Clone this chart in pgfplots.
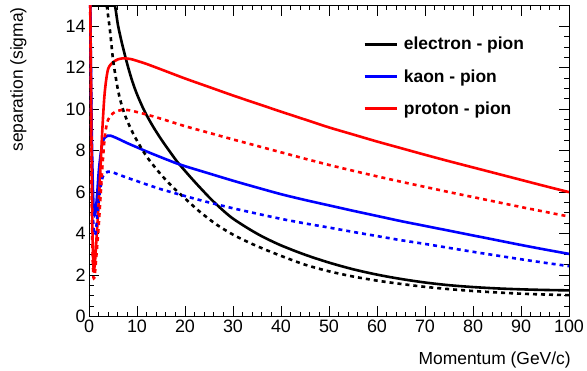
\documentclass[border=0pt]{standalone}
\usepackage{fontspec}
\setmainfont{Liberation Sans}
\usepackage{pgfplots}
\pgfplotsset{compat=1.18}
\definecolor{rblue}{RGB}{0,0,255}
\definecolor{rred}{RGB}{255,0,0}
\begin{document}
\begin{tikzpicture}
\begin{axis}[
  scale only axis, width=480bp, height=311bp,
  xmin=0, xmax=100, ymin=0, ymax=15,
  xtick={0,10,...,100}, ytick={0,2,...,14},
  minor x tick num=4, minor y tick num=3,
  tick align=inside, tick pos=both,
  major tick length=10bp, minor tick length=5bp,
  axis line style={line width=0.8bp},
  every tick/.style={black, line width=0.8bp},
  ticklabel style={font=\fontsize{18}{21}\selectfont},
  /pgf/number format/assume math mode=true,
  xlabel={Momentum (GeV/c)},
  ylabel={separation (sigma)},
  xlabel style={at={(axis description cs:1.004,-0.1545)}, anchor=base east, inner sep=0pt, font=\fontsize{17.5}{20}\selectfont},
  ylabel style={at={(axis description cs:-0.138,0.995)}, anchor=base east, inner sep=0pt, font=\fontsize{17.5}{20}\selectfont},
  legend style={draw=none, fill=none, at={(axis description cs:0.571,0.905)}, anchor=north west,
    font=\bfseries\fontsize{17.5}{20}\selectfont, row sep=14bp, column sep=4bp, inner sep=0pt,
    nodes={inner sep=2bp}},
  legend cell align=left,
  legend image code/.code={\draw[#1] (0bp,0bp) -- (32bp,0bp);},
  every axis plot/.append style={line width=2.6bp, smooth, tension=0.5},
]
% electron - pion (solid)
\addplot[black] coordinates {
(0.3,15) (1,15) (2,15) (3,15) (4,15) (5,15) (5.4,15) (6,14.1) (6.5,13.55) (7,13.05) (8,12.15) (9,11.36) (10,10.72) (11.3,10.03) (12,9.71) (13.4,9.14) (15,8.56) (16.2,8.16) (18,7.58) (18.6,7.4) (21,6.76) (23,6.25) (25.5,5.64) (28,5.1) (30,4.72) (33,4.27) (36,3.87) (40,3.43) (45,2.98) (50,2.6) (55,2.28) (60,2.02) (65,1.81) (70,1.64) (75,1.51) (80,1.42) (85,1.355) (90,1.31) (95,1.28) (100,1.26)
};
\addlegendentry{electron - pion}
% kaon - pion (solid)
\addplot[rblue] coordinates {
(0.2,17) (0.5,10) (0.8,6.3) (1.0,5.15) (1.2,4.9) (1.4,5.1) (1.7,5.9) (2.0,6.9) (2.3,7.6) (2.6,8.1) (2.9,8.45) (3.3,8.63) (3.9,8.72) (4.5,8.72) (5,8.68) (6,8.58) (8,8.36) (10,8.16) (12,7.96) (15,7.68) (18.3,7.38) (20,7.25) (25,6.9) (30,6.55) (35,6.22) (40,5.9) (45,5.62) (50,5.36) (55,5.1) (60,4.85) (65,4.6) (70,4.37) (75,4.14) (80,3.91) (85,3.68) (90,3.45) (95,3.23) (100,3.02)
};
\addlegendentry{kaon - pion}
% proton - pion (solid)
\addplot[rred] coordinates {
(0.2,17) (0.5,9) (0.7,4.6) (0.85,2.8) (1.0,2.25) (1.15,2.4) (1.3,2.8) (1.6,3.9) (2.0,5.4) (2.4,7.2) (2.8,9.1) (3.2,10.6) (3.6,11.45) (4.0,11.95) (4.5,12.15) (5,12.27) (6,12.4) (7,12.45) (8,12.44) (9,12.4) (10,12.33) (12,12.18) (15,11.92) (20,11.48) (25,11.07) (30,10.66) (35,10.27) (40,9.88) (45,9.5) (50,9.12) (55,8.78) (60,8.44) (65,8.12) (70,7.8) (75,7.49) (80,7.19) (85,6.89) (90,6.59) (95,6.29) (100,6.0)
};
\addlegendentry{proton - pion}
% dotted versions
\addplot[black, dash pattern=on 4bp off 4bp, forget plot] coordinates {
(3.7,15) (4.37,13.8) (5.06,12.3) (6.1,10.85) (7,10.05) (7.85,9.5) (9,8.92) (9.9,8.52) (12,7.72) (14.8,6.9) (17.2,6.3) (19.6,5.78) (23,5.07) (26.6,4.43) (30,3.95) (33.5,3.55) (37,3.2) (40.5,2.88) (45,2.5) (50,2.18) (55,1.93) (60,1.73) (65,1.57) (70,1.43) (75,1.32) (80,1.23) (85,1.16) (90,1.1) (95,1.06) (100,1.03)
};
\addplot[rblue, dash pattern=on 4bp off 4bp, forget plot] coordinates {
(0.2,17) (0.5,8) (0.8,5.04) (1.0,4.12) (1.2,3.92) (1.4,4.08) (1.7,4.72) (2.0,5.52) (2.3,6.08) (2.6,6.48) (2.9,6.76) (3.3,6.9) (3.9,6.98) (4.5,6.98) (5,6.95) (6,6.86) (8,6.69) (10,6.53) (12,6.37) (15,6.14) (20,5.81) (25,5.5) (30,5.22) (35,4.96) (40,4.71) (45,4.49) (50,4.29) (55,4.08) (60,3.88) (65,3.68) (70,3.5) (75,3.31) (80,3.12) (85,2.94) (90,2.76) (95,2.59) (100,2.43)
};
\addplot[rred, dash pattern=on 4bp off 4bp, forget plot] coordinates {
(0.2,17) (0.45,8.5) (0.6,5.0) (0.75,3.0) (0.9,2.0) (1.0,1.84) (1.15,1.92) (1.3,2.24) (1.6,3.1) (2.0,4.3) (2.4,5.75) (2.8,7.25) (3.2,8.45) (3.6,9.15) (4.0,9.5) (5,9.8) (6,9.92) (7,9.96) (8,9.96) (9,9.92) (10,9.86) (12,9.74) (15,9.54) (20,9.18) (25,8.86) (30,8.54) (35,8.23) (40,7.92) (45,7.61) (50,7.31) (55,7.03) (60,6.76) (65,6.5) (70,6.25) (75,6.0) (80,5.76) (85,5.52) (90,5.28) (95,5.05) (100,4.82)
};
\end{axis}
\pgfresetboundingbox
\path (current axis.south west) ++(-89bp,-54.5bp) rectangle ++(587bp,371bp);
\end{tikzpicture}
\end{document}
